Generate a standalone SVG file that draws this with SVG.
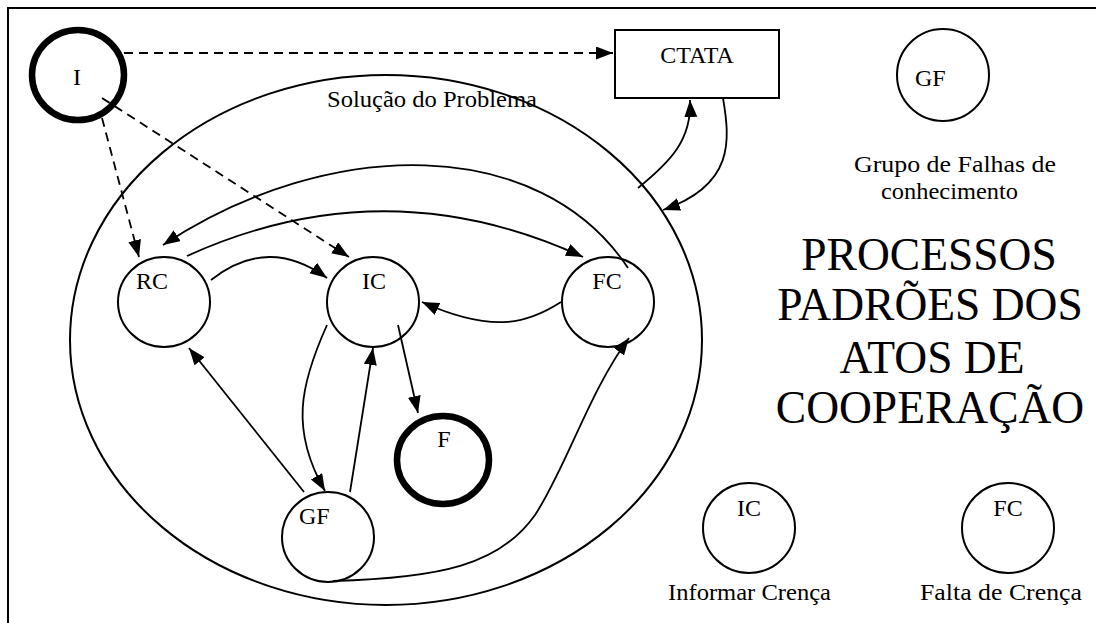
<svg xmlns="http://www.w3.org/2000/svg" width="1096" height="623" viewBox="0 0 1096 623">
  <style>
    text { font-family: "Liberation Serif", "Times New Roman", serif; fill: #000; }
    .lbl { font-size: 24px; }
    .mid { text-anchor: middle; }
    .title { font-size: 45.5px; text-anchor: middle; }
    .node { fill: #fff; stroke: #000; stroke-width: 2; }
    .thick { fill: #fff; stroke: #000; stroke-width: 6.5; }
    .edge { fill: none; stroke: #000; stroke-width: 1.8; marker-end: url(#arrow); }
    .dash { stroke-dasharray: 9 6; }
  </style>
  <defs>
    <marker id="arrow" markerUnits="userSpaceOnUse" markerWidth="18" markerHeight="14" refX="17" refY="6.5" orient="auto">
      <path d="M0,0 L17,6.5 L0,13 Z" fill="#000"/>
    </marker>
  </defs>

  <rect width="1096" height="623" fill="#fff"/>
  <!-- open frame: top and left sides only -->
  <path d="M8,623 V8 H1096" fill="none" stroke="#000" stroke-width="2"/>

  <!-- problem-solving region -->
  <g id="solucao">
    <ellipse cx="386" cy="340" rx="316" ry="265" fill="none" stroke="#000" stroke-width="2"/>
    <text class="lbl" x="327" y="107" textLength="210" lengthAdjust="spacingAndGlyphs">Solução do Problema</text>
  </g>

  <g id="node-I">
    <ellipse class="thick" cx="78" cy="75" rx="46" ry="45"/>
    <text class="lbl mid" x="77" y="85">I</text>
  </g>

  <g id="node-CTATA">
    <rect class="node" x="615" y="30" width="164" height="68"/>
    <text class="lbl mid" x="697" y="63">CTATA</text>
  </g>

  <g id="node-RC">
    <ellipse class="node" cx="164" cy="302" rx="46" ry="45"/>
    <text class="lbl" x="136" y="289">RC</text>
  </g>

  <g id="node-IC">
    <ellipse class="node" cx="373" cy="302" rx="46" ry="45"/>
    <text class="lbl mid" x="374" y="289">IC</text>
  </g>

  <g id="node-FC">
    <ellipse class="node" cx="608" cy="302" rx="46" ry="45"/>
    <text class="lbl mid" x="607" y="289">FC</text>
  </g>

  <g id="node-GF">
    <ellipse class="node" cx="328" cy="537" rx="46" ry="45"/>
    <text class="lbl" x="299" y="524">GF</text>
  </g>

  <g id="node-F">
    <ellipse class="thick" cx="443" cy="460" rx="46" ry="44"/>
    <text class="lbl mid" x="444" y="447">F</text>
  </g>

  <g id="connectors">
    <!-- dashed links from I -->
    <path class="edge dash" d="M124,53 H613"/>
    <path class="edge dash" d="M102,118 L139,257"/>
    <path class="edge dash" d="M102,98 L349,257"/>
    <!-- between RC, IC, FC -->
    <path class="edge" d="M187,256 Q385,166 583,257"/>
    <path class="edge" d="M628,268 C540,135 330,135 163,245"/>
    <path class="edge" d="M211,280 Q268,235 327,278"/>
    <path class="edge" d="M561,302 C530,322 495,335 422,302"/>
    <path class="edge" d="M398,325 L418,413"/>
    <path class="edge" d="M327,325 C300,385 290,430 325,491"/>
    <path class="edge" d="M350,492 L373,348"/>
    <path class="edge" d="M304,492 L189,348"/>
    <path class="edge" d="M333,581 C440,578 500,565 535,515 C565,470 590,390 629,338"/>
    <!-- region and CTATA -->
    <path class="edge" d="M638,188 C670,162 692,140 690,100"/>
    <path class="edge" d="M723,98 C730,140 735,185 663,210"/>
  </g>

  <!-- legend -->
  <g id="legend-GF">
    <ellipse class="node" cx="943" cy="75" rx="46" ry="46"/>
    <text class="lbl" x="915" y="86">GF</text>
    <text class="lbl" x="854" y="172" textLength="202" lengthAdjust="spacingAndGlyphs">Grupo de Falhas de</text>
    <text class="lbl" x="881" y="199" textLength="137" lengthAdjust="spacingAndGlyphs">conhecimento</text>
  </g>

  <g id="legend-IC">
    <ellipse class="node" cx="749" cy="528" rx="46" ry="45"/>
    <text class="lbl mid" x="749" y="516">IC</text>
    <text class="lbl" x="668" y="600" textLength="163" lengthAdjust="spacingAndGlyphs">Informar Crença</text>
  </g>

  <g id="legend-FC">
    <ellipse class="node" cx="1008" cy="528" rx="46" ry="45"/>
    <text class="lbl mid" x="1008" y="516">FC</text>
    <text class="lbl" x="920" y="600" textLength="162" lengthAdjust="spacingAndGlyphs">Falta de Crença</text>
  </g>

  <g id="title">
    <text class="title" x="929" y="270">PROCESSOS</text>
    <text class="title" x="930" y="320">PADRÕES DOS</text>
    <text class="title" x="932" y="373">ATOS DE</text>
    <text class="title" x="930" y="423">COOPERAÇÃO</text>
  </g>
</svg>
